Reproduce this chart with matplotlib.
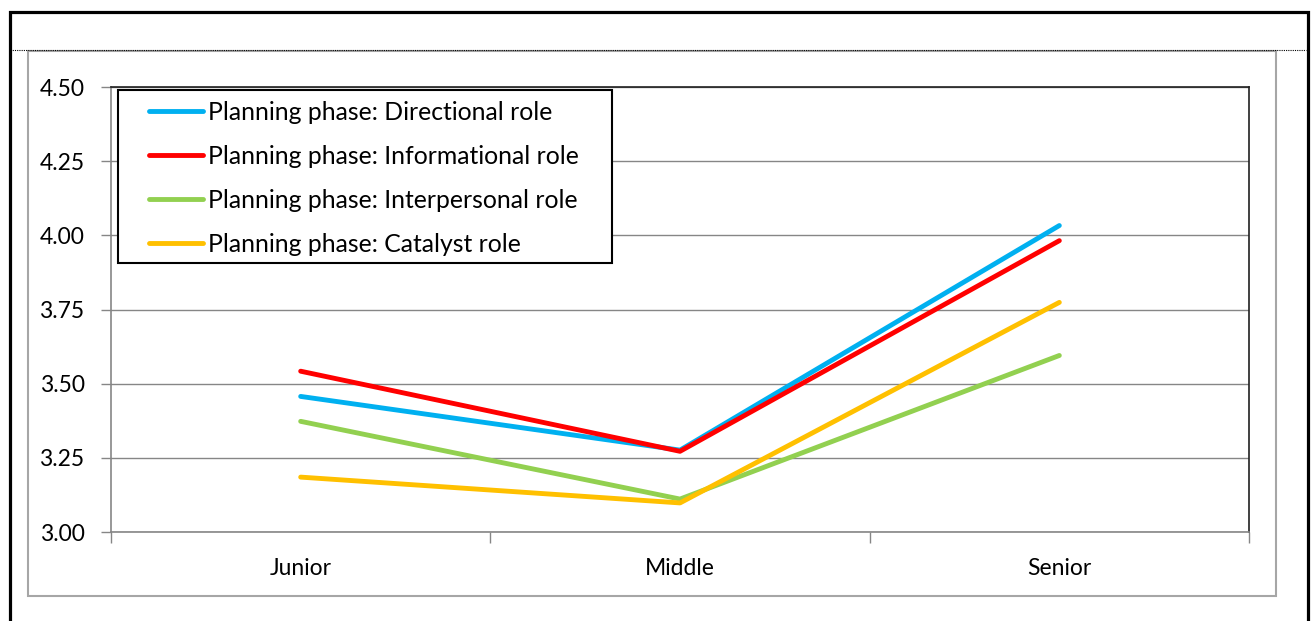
import matplotlib
matplotlib.use("Agg")
import matplotlib.pyplot as plt
from matplotlib.patches import Rectangle
from matplotlib.lines import Line2D

categories = ["Junior", "Middle", "Senior"]
directional = [3.457, 3.276, 4.033]
informational = [3.542, 3.272, 3.982]
interpersonal = [3.373, 3.111, 3.595]
catalyst = [3.185, 3.098, 3.774]
series_names = ["Planning phase: Directional role",
                "Planning phase: Informational role",
                "Planning phase: Interpersonal role",
                "Planning phase: Catalyst role"]
series_colors = ["#00B0F0", "#FF0000", "#92D050", "#FFC000"]
y_ticks = [3.00, 3.25, 3.50, 3.75, 4.00, 4.25, 4.50]

W, H = 1316, 621
FS = 16.5
LEG_FS = 17.8
LW = 3.5
plt.rcParams["font.family"] = ["Lato", "DejaVu Sans"]


def fx(x):
    return x / W


def fy(y):
    return 1 - y / H


def main():
    fig = plt.figure(figsize=(W / 100, H / 100), dpi=100)
    fig.patch.set_facecolor("white")

    # outer black frame (bottom edge runs off the page)
    fig.add_artist(Rectangle((fx(9.5), fy(640)), fx(1308) - fx(9.5), fy(11.5) - fy(640),
                             transform=fig.transFigure, fill=False,
                             edgecolor="black", linewidth=2.3))
    # dotted separator and grey chart-area border
    fig.add_artist(Line2D([fx(10), fx(1306)], [fy(50), fy(50)], transform=fig.transFigure,
                          color="black", linewidth=0.8, linestyle=(0, (1, 1))))
    fig.add_artist(Rectangle((fx(27.5), fy(596)), fx(1276) - fx(27.5), fy(50.5) - fy(596),
                             transform=fig.transFigure, fill=False,
                             edgecolor="#A6A6A6", linewidth=1.5))

    ax = fig.add_axes([fx(111), fy(532), fx(1249) - fx(111), fy(87) - fy(532)])
    x = range(len(categories))
    for vals, name, col in zip([directional, informational, interpersonal, catalyst],
                               series_names, series_colors):
        ax.plot(x, vals, color=col, linewidth=LW, label=name,
                solid_joinstyle="round", solid_capstyle="round", zorder=3)

    ax.set_xlim(-0.5, len(categories) - 0.5)
    ax.set_ylim(y_ticks[0], y_ticks[-1])
    ax.set_yticks(y_ticks)
    ax.set_yticklabels(["%.2f" % v for v in y_ticks])
    ax.set_xticks([i - 0.5 for i in range(len(categories) + 1)])
    ax.set_xticklabels([])
    ax.set_xticks(list(x), minor=True)
    ax.set_xticklabels(categories, minor=True)
    ax.tick_params(axis="x", which="minor", length=0, pad=19, labelsize=FS)
    ax.tick_params(axis="x", which="major", length=8, width=1, color="#868686")
    ax.tick_params(axis="y", length=7, width=1, color="#868686", pad=12, labelsize=FS)

    ax.yaxis.grid(True, color="#868686", linewidth=1)
    ax.set_axisbelow(True)
    for side in ["left", "bottom"]:
        ax.spines[side].set_color("#868686")
        ax.spines[side].set_linewidth(1.2)
    for side in ["top", "right"]:
        ax.spines[side].set_color("#202020")
        ax.spines[side].set_linewidth(1.2)

    # legend box drawn separately so padding can differ per side
    box = Rectangle((fx(117.5), fy(263)), fx(612) - fx(117.5), fy(90) - fy(263),
                    transform=fig.transFigure, facecolor="white",
                    edgecolor="black", linewidth=1.5, zorder=5, clip_on=False)
    ax.add_artist(box)
    leg = ax.legend(loc="upper left", bbox_to_anchor=(fx(149), fy(101)),
                    bbox_transform=fig.transFigure, frameon=False, fontsize=LEG_FS,
                    borderpad=0, borderaxespad=0, handlelength=2.2,
                    handletextpad=0.17, labelspacing=0.85)
    leg.set_zorder(6)
    for line in leg.get_lines():
        line.set_linewidth(LW)
        line.set_solid_capstyle("round")

    plt.savefig("out.png", dpi=100)
    plt.close("all")


if __name__ == '__main__':
    main()
